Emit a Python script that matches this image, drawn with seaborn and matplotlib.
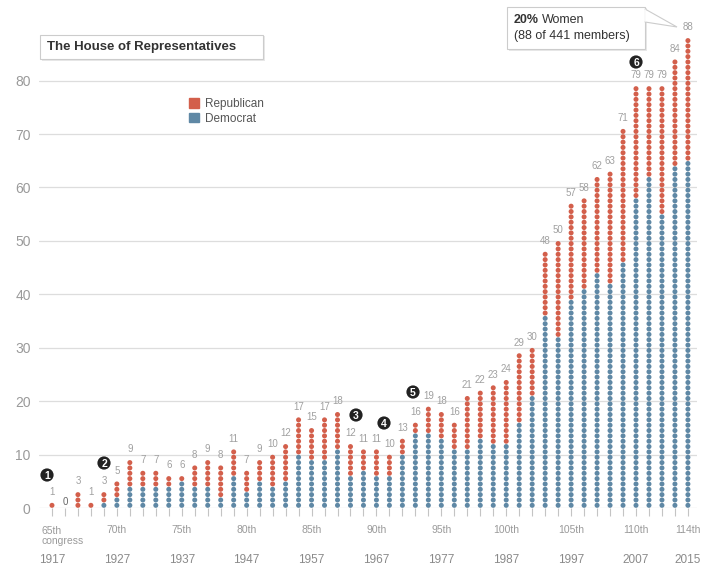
import pandas as pd
import matplotlib.pyplot as plt
import matplotlib.patches as mpatches
import seaborn as sns

# women in the House, by congress (65th = 1917 ... 114th = 2015)
congress = list(range(65, 115))
democrats = [0, 0, 0, 0, 1, 2, 4, 4, 4, 4,
             5, 4, 4, 2, 6, 3, 5, 4, 5, 10,
             9, 9, 11, 6, 7, 6, 6, 10, 14, 14,
             13, 11, 11, 13, 12, 12, 16, 21, 36, 32,
             39, 41, 44, 42, 46, 58, 62, 55, 64, 65]
republicans = [1, 0, 3, 1, 2, 3, 5, 3, 3, 2,
               1, 4, 5, 6, 5, 4, 4, 6, 7, 7,
               6, 8, 7, 6, 4, 5, 4, 3, 2, 5,
               5, 5, 10, 9, 11, 12, 13, 9, 12, 18,
               18, 17, 18, 21, 25, 21, 17, 24, 20, 23]
label_congress = [70, 75, 80, 85, 90, 95, 100, 105, 110, 114]
year_congress = [65, 70, 75, 80, 85, 90, 95, 100, 105, 110, 114]
years = [1917, 1927, 1937, 1947, 1957, 1967, 1977, 1987, 1997, 2007, 2015]
markers = {1: (47, 475), 2: (104, 463), 3: (356, 415), 4: (384, 423), 5: (413, 392), 6: (636, 62)}

RED = "#d35f4b"
BLUE = "#5f88a5"

# one row per member -> one dot
rows = []
for c, d, r in zip(congress, democrats, republicans):
    for k in range(d):
        rows.append((c, k + 0.5, "Democrat"))
    for k in range(d, d + r):
        rows.append((c, k + 0.5, "Republican"))
dots = pd.DataFrame(rows, columns=["congress", "level", "party"])
totals = [d + r for d, r in zip(democrats, republicans)]

sns.set_theme(style="white")
plt.rcParams['font.family'] = ['Liberation Sans', 'DejaVu Sans']

W, H = 726, 583
fig = plt.figure(figsize=(W / 100, H / 100), dpi=100)
ax = fig.add_axes([39 / W, 75 / H, (697 - 39) / W, 508 / H])

sns.scatterplot(data=dots, x="congress", y="level", hue="party",
                palette={"Democrat": BLUE, "Republican": RED},
                s=13, linewidth=0, legend=False, ax=ax)

ax.set_xlim(64.0, 114.7)
ax.set_ylim(0, 95.1)
ax.set_yticks(range(0, 90, 10))
ax.yaxis.grid(True, color="#dddddd", lw=0.9)
ax.set_axisbelow(True)
sns.despine(ax=ax, left=True, bottom=True)
ax.set_xlabel("")
ax.set_ylabel("")

ax.set_xticks(congress)
ax.set_xticklabels([f"{c}th" if c in label_congress else "" for c in congress])
ax.tick_params(axis="x", length=6, width=0.8, color="#c4c4c4", pad=6,
               labelsize=7.5, labelcolor="#9a9a9a", bottom=True)
ax.tick_params(axis="y", length=0, pad=6, labelsize=10, labelcolor="#9a9a9a")

ax.annotate("65th\ncongress", xy=(65, 0), xycoords=("data", "axes fraction"),
            xytext=(-7.5, -13), textcoords="offset points", ha="left", va="top",
            fontsize=7.5, color="#9a9a9a", linespacing=1.05)
for c, y in zip(year_congress, years):
    ax.annotate(str(y), xy=(c, 0), xycoords=("data", "axes fraction"),
                xytext=(0, -37.5), textcoords="offset points", ha="center",
                va="center", fontsize=8.5, color="#8a8a8a")

# totals above each column
for c, t in zip(congress, totals):
    ax.annotate(str(t), (c, t), xytext=(0, 4 if t else 1), textcoords="offset points",
                ha="center", va="bottom", fontsize=7,
                color="#a0a0a0" if t else "#666666")

# legend
handles = [mpatches.Patch(color=RED, label="Republican"),
           mpatches.Patch(color=BLUE, label="Democrat")]
ax.legend(handles=handles, loc="upper left", bbox_to_anchor=(183 / W, 1 - 92 / H),
          bbox_transform=fig.transFigure, frameon=False, borderpad=0,
          handlelength=0.85, handleheight=0.85, handletextpad=0.5,
          labelspacing=0.25, fontsize=8.5, labelcolor="#555555")


def px_rect(x0, y0, x1, y1, **kw):
    return mpatches.Rectangle((x0 / W, 1 - y1 / H), (x1 - x0) / W, (y1 - y0) / H,
                              transform=fig.transFigure, **kw)


# title box
fig.add_artist(px_rect(41.5, 36.5, 264.5, 60.5, fc="#e8e8e8", ec="none"))
fig.add_artist(px_rect(40, 35, 263, 59, fc="white", ec="#cccccc", lw=0.8))
fig.text(47 / W, 1 - 47 / H, "The House of Representatives", fontsize=9.5,
         fontweight="bold", color="#333333", va="center", ha="left")

# callout box
fig.add_artist(px_rect(508.5, 8.5, 646.5, 50.5, fc="#e8e8e8", ec="none"))
fig.add_artist(px_rect(507, 7, 645, 49, fc="white", ec="#cccccc", lw=0.8))
tail = mpatches.Polygon([(645 / W, 1 - 9 / H), (677 / W, 1 - 27 / H), (645 / W, 1 - 22 / H)],
                        closed=True, transform=fig.transFigure, fc="white", ec="#cccccc", lw=0.8)
fig.add_artist(tail)
fig.add_artist(plt.Line2D([645 / W, 645 / W], [1 - 9.8 / H, 1 - 21.2 / H],
                          transform=fig.transFigure, color="white", lw=1.2))
t1 = fig.text(514 / W, 1 - 20 / H, "20%", fontsize=9, fontweight="bold",
              color="#333333", va="center", ha="left", zorder=5)
bb = t1.get_window_extent(renderer=fig.canvas.get_renderer())
fig.text(bb.x1 / fig.bbox.width + 2.5 / W, 1 - 20 / H, "Women", fontsize=9,
         color="#333333", va="center", ha="left", zorder=5)
fig.text(514 / W, 1 - 36 / H, "(88 of 441 members)", fontsize=9,
         color="#333333", va="center", ha="left", zorder=5)

# numbered markers
for n, (x, y) in markers.items():
    fig.add_artist(mpatches.Circle((x / 100, (H - y) / 100), 0.066,
                                   transform=fig.dpi_scale_trans, fc="#222222", ec="none"))
    fig.text(x / W, 1 - y / H, str(n), fontsize=7.5, fontweight="bold", color="white",
             ha="center", va="center_baseline")

fig.savefig("out.png", dpi=100)
